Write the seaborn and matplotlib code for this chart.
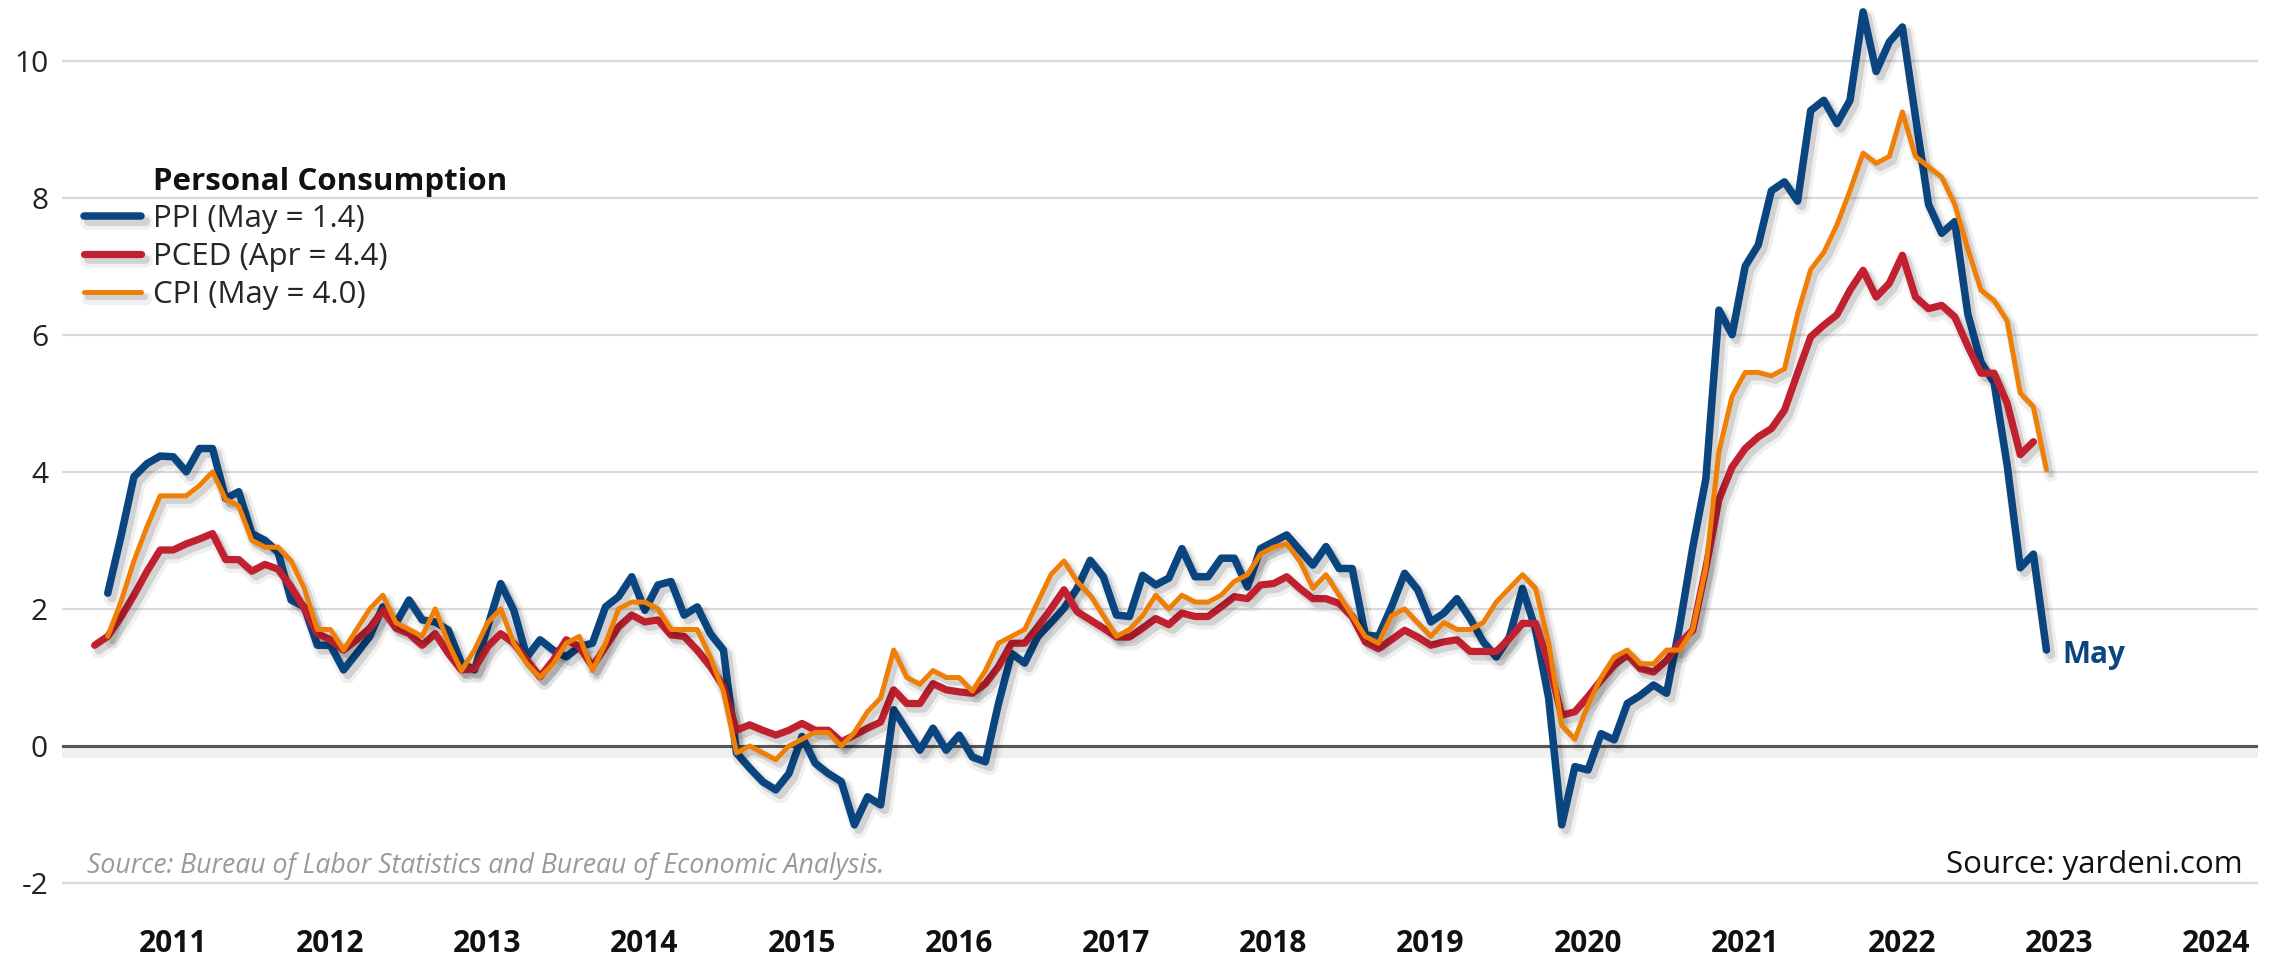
import matplotlib
matplotlib.use("Agg")
from matplotlib import pyplot as plt
import matplotlib.patheffects as pe
import seaborn as sns
import numpy as np
import pandas as pd

sns.set_style("white")
plt.rcParams['font.family'] = ['Open Sans', 'DejaVu Sans']

# yoy % change, monthly; (year, month) of the first value
ppi_start = (2011, 1)
ppi = [2.23, 3.05, 3.93, 4.12, 4.23, 4.22, 4.0, 4.34, 4.34, 3.61, 3.71, 3.10,
       3.0, 2.83, 2.13, 2.03, 1.47, 1.47, 1.11, 1.35, 1.6, 2.03, 1.79, 2.13,
       1.84, 1.81, 1.69, 1.21, 1.11, 1.74, 2.37, 1.98, 1.30, 1.55, 1.40, 1.30,
       1.45, 1.5, 2.03, 2.18, 2.47, 1.98, 2.35, 2.40, 1.91, 2.03, 1.64, 1.40,
       -0.1, -0.32, -0.52, -0.64, -0.40, 0.14, -0.25, -0.40, -0.52, -1.15, -0.74, -0.86,
       0.53, 0.23, -0.06, 0.26, -0.06, 0.16, -0.16, -0.23, 0.62, 1.35, 1.21, 1.6,
       1.8, 2.01, 2.30, 2.71, 2.47, 1.91, 1.89, 2.49, 2.35, 2.45, 2.88, 2.47,
       2.47, 2.74, 2.74, 2.32, 2.88, 2.98, 3.08, 2.86, 2.64, 2.91, 2.59, 2.59,
       1.62, 1.6, 2.03, 2.52, 2.28, 1.81, 1.94, 2.15, 1.86, 1.52, 1.30, 1.59,
       2.30, 1.7, 0.7, -1.15, -0.30, -0.35, 0.18, 0.09, 0.62, 0.74, 0.89, 0.77,
       1.75, 2.9, 3.9, 6.36, 6.0, 7.0, 7.31, 8.1, 8.23, 7.95, 9.27, 9.42,
       9.08, 9.42, 10.71, 9.84, 10.27, 10.49, 9.18, 7.9, 7.48, 7.65, 6.3, 5.6,
       5.3, 4.1, 2.6, 2.8, 1.4]

pced_start = (2010, 12)
pced = [1.47,
        1.6, 1.88, 2.2, 2.55, 2.86, 2.86, 2.95, 3.02, 3.1, 2.72, 2.72, 2.55,
        2.65, 2.58, 2.32, 2.01, 1.64, 1.55, 1.40, 1.55, 1.72, 1.98, 1.72, 1.64,
        1.47, 1.64, 1.35, 1.11, 1.13, 1.45, 1.64, 1.50, 1.25, 1.01, 1.25, 1.55,
        1.45, 1.16, 1.45, 1.74, 1.91, 1.81, 1.84, 1.62, 1.60, 1.40, 1.16, 0.87,
        0.23, 0.31, 0.23, 0.16, 0.23, 0.33, 0.23, 0.23, 0.06, 0.16, 0.26, 0.35,
        0.82, 0.62, 0.62, 0.91, 0.82, 0.79, 0.77, 0.91, 1.16, 1.50, 1.50, 1.74,
        2.0, 2.28, 1.96, 1.84, 1.72, 1.59, 1.59, 1.72, 1.86, 1.77, 1.94, 1.89,
        1.89, 2.03, 2.18, 2.15, 2.35, 2.37, 2.47, 2.30, 2.15, 2.15, 2.08, 1.89,
        1.52, 1.42, 1.55, 1.69, 1.59, 1.47, 1.52, 1.55, 1.38, 1.38, 1.38, 1.57,
        1.79, 1.79, 1.2, 0.45, 0.50, 0.72, 0.96, 1.18, 1.33, 1.13, 1.08, 1.25,
        1.50, 1.69, 2.6, 3.6, 4.07, 4.34, 4.51, 4.63, 4.9, 5.44, 5.97, 6.14,
        6.29, 6.65, 6.94, 6.55, 6.75, 7.16, 6.55, 6.38, 6.43, 6.26, 5.83, 5.44,
        5.44, 5.0, 4.25, 4.44]

cpi_start = (2011, 1)
cpi = [1.6, 2.1, 2.7, 3.2, 3.65, 3.65, 3.65, 3.8, 4.0, 3.6, 3.5, 3.0,
       2.9, 2.9, 2.7, 2.3, 1.7, 1.7, 1.4, 1.7, 2.0, 2.2, 1.8, 1.7,
       1.6, 2.0, 1.5, 1.1, 1.4, 1.8, 2.0, 1.5, 1.2, 1.0, 1.2, 1.5,
       1.6, 1.1, 1.5, 2.0, 2.1, 2.1, 2.0, 1.7, 1.7, 1.7, 1.3, 0.8,
       -0.1, 0.0, -0.1, -0.2, 0.0, 0.1, 0.2, 0.2, 0.0, 0.2, 0.5, 0.7,
       1.4, 1.0, 0.9, 1.1, 1.0, 1.0, 0.8, 1.1, 1.5, 1.6, 1.7, 2.1,
       2.5, 2.7, 2.4, 2.2, 1.9, 1.6, 1.7, 1.9, 2.2, 2.0, 2.2, 2.1,
       2.1, 2.2, 2.4, 2.5, 2.8, 2.9, 2.95, 2.7, 2.3, 2.5, 2.2, 1.9,
       1.6, 1.5, 1.9, 2.0, 1.8, 1.6, 1.8, 1.7, 1.7, 1.8, 2.1, 2.3,
       2.5, 2.3, 1.5, 0.3, 0.1, 0.6, 1.0, 1.3, 1.4, 1.2, 1.2, 1.4,
       1.4, 1.7, 2.6, 4.3, 5.1, 5.45, 5.45, 5.4, 5.5, 6.3, 6.95, 7.2,
       7.6, 8.1, 8.65, 8.5, 8.6, 9.25, 8.6, 8.45, 8.3, 7.9, 7.25, 6.65,
       6.5, 6.2, 5.15, 4.95, 4.03]

series_labels = ['PPI (May = 1.4)', 'PCED (Apr = 4.4)', 'CPI (May = 4.0)']
legend_title = 'Personal Consumption'
last_label = 'May'
years = list(range(2011, 2025))
yticks = [-2, 0, 2, 4, 6, 8, 10]

BLUE = '#0b4580'
RED = '#c0202f'
ORANGE = '#ef7f07'


def to_frame(start, values):
    y, m = start
    t = y + (m - 1) / 12 + np.arange(len(values)) / 12
    return pd.DataFrame({'t': t, 'v': values})


def shadow(lw):
    return [pe.SimpleLineShadow(offset=(3, -4), shadow_color='k', alpha=0.06, linewidth=lw + 6),
            pe.SimpleLineShadow(offset=(3, -3.5), shadow_color='k', alpha=0.12, linewidth=lw + 1),
            pe.Normal()]


df_ppi = to_frame(ppi_start, ppi)
df_pced = to_frame(pced_start, pced)
df_cpi = to_frame(cpi_start, cpi)

fig = plt.figure(figsize=(22.8, 9.61), dpi=100)
ax = fig.add_axes([62 / 2280, 1 - 903.7 / 961, (2258 - 62) / 2280, (903.7 - 5.7) / 961])

ax.yaxis.grid(True, color='#dadada', linewidth=1.6, zorder=0)
ax.axhline(0, color='#555555', linewidth=2.2, zorder=1,
           path_effects=[pe.SimpleLineShadow(offset=(0, -4), alpha=0.06, linewidth=8), pe.Normal()])

sns.lineplot(data=df_ppi, x='t', y='v', color=BLUE, linewidth=5.4, ax=ax,
             label=series_labels[0], path_effects=shadow(5.4), zorder=3)
sns.lineplot(data=df_pced, x='t', y='v', color=RED, linewidth=5.2, ax=ax,
             label=series_labels[1], path_effects=shadow(5.2), zorder=4)
sns.lineplot(data=df_cpi, x='t', y='v', color=ORANGE, linewidth=3.6, ax=ax,
             label=series_labels[2], path_effects=shadow(3.6), zorder=5)

ax.set_xlim(2010.709, 2024.679)
ax.set_ylim(-2.3, 10.8)
ax.set_yticks(yticks)
ax.set_yticklabels([str(v) for v in yticks], fontsize=21.5, color='#222222')
ax.set_xticks([y + 0.415 for y in years])
ax.set_xticklabels([str(y) for y in years], fontsize=21.5, fontweight='bold', color='#111111')
ax.tick_params(axis='both', length=0)
ax.tick_params(axis='y', pad=10)
ax.tick_params(axis='x', pad=18)
ax.set_xlabel('')
ax.set_ylabel('')
for s in ax.spines.values():
    s.set_visible(False)

handles, labels = ax.get_legend_handles_labels()
ax.legend(handles, labels, loc='upper left', bbox_to_anchor=(84 / 2280, 1 - 204 / 961),
          bbox_transform=fig.transFigure, frameon=False, fontsize=22.5,
          handlelength=1.82, handletextpad=0.38, labelspacing=0.26,
          borderpad=0, borderaxespad=0)
fig.text(153 / 2280, 1 - 190 / 961, legend_title, fontsize=22.5, fontweight='bold',
         ha='left', va='baseline', color='#111111')

ax.annotate(last_label, xy=(df_ppi['t'].iloc[-1], df_ppi['v'].iloc[-1]),
            xytext=(11.5, -9), textcoords='offset points', fontsize=21.5,
            fontweight='bold', color=BLUE, ha='left', va='baseline')

fig.text(87 / 2280, 1 - 873 / 961, 'Source: Bureau of Labor Statistics and Bureau of Economic Analysis.',
         fontsize=19.2, fontstyle='italic', color='#9a9a9a', ha='left', va='baseline')
fig.text(2243 / 2280, 1 - 873 / 961, 'Source: yardeni.com', fontsize=22.5,
         color='#111111', ha='right', va='baseline')

fig.savefig('out.png', dpi=100, facecolor='white')
